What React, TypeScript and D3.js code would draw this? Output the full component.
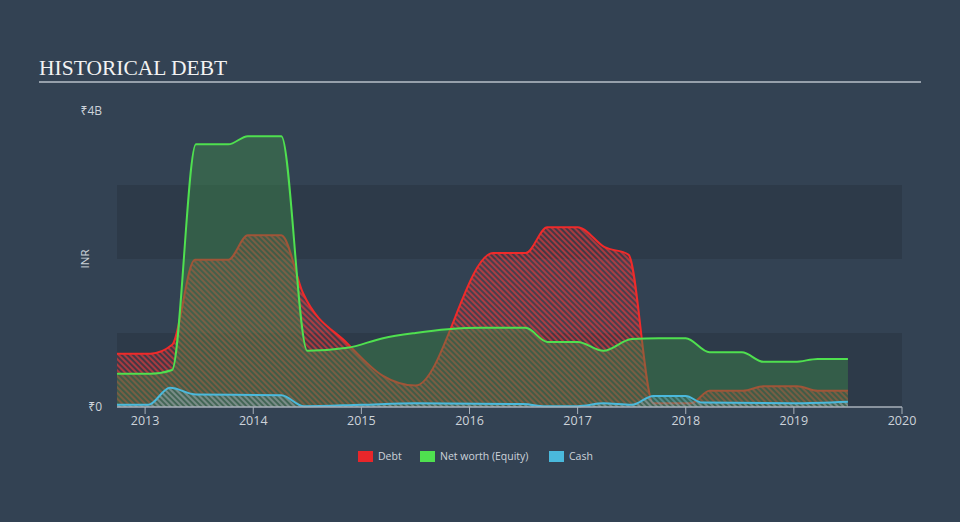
import React, { useEffect } from 'react';
import * as d3 from 'd3';

// Decimal years and values in ₹ billions
const debtYears = [2012.74, 2013.05, 2013.25, 2013.46, 2013.77, 2013.95, 2014.26, 2014.46, 2014.87, 2015.2, 2015.5, 2016.22, 2016.52, 2016.72, 2017.0, 2017.25, 2017.47, 2017.7, 2018.05, 2018.22, 2018.53, 2018.72, 2019.03, 2019.22, 2019.5];
const debtValues = [0.72, 0.72, 0.84, 1.99, 1.99, 2.32, 2.32, 1.54, 0.86, 0.42, 0.29, 2.08, 2.08, 2.43, 2.43, 2.16, 2.06, 0.05, 0.05, 0.22, 0.22, 0.28, 0.28, 0.22, 0.22];

const equityYears = [2012.74, 2013.05, 2013.25, 2013.47, 2013.77, 2013.95, 2014.26, 2014.5, 2014.87, 2015.2, 2015.5, 2015.8, 2016.1, 2016.52, 2016.72, 2017.0, 2017.24, 2017.5, 2017.75, 2018.0, 2018.22, 2018.52, 2018.72, 2019.01, 2019.22, 2019.5];
const equityValues = [0.45, 0.45, 0.5, 3.55, 3.55, 3.66, 3.66, 0.76, 0.8, 0.93, 1.0, 1.05, 1.07, 1.07, 0.88, 0.88, 0.76, 0.92, 0.93, 0.93, 0.74, 0.74, 0.61, 0.61, 0.65, 0.65];

const cashYears = [2012.74, 2013.03, 2013.23, 2013.47, 2014.26, 2014.47, 2015.0, 2015.5, 2016.5, 2016.7, 2017.0, 2017.24, 2017.5, 2017.7, 2018.0, 2018.15, 2019.0, 2019.5];
const cashValues = [0.03, 0.03, 0.26, 0.17, 0.16, 0.01, 0.03, 0.05, 0.04, 0.01, 0.01, 0.05, 0.03, 0.15, 0.15, 0.06, 0.05, 0.07];

const xTicks = [2013, 2014, 2015, 2016, 2017, 2018, 2019, 2020];
const yLabels = ['₹0', '₹4B'];
const yLabelValues = [0, 4];
const bandStarts = [0, 2];

const legendNames = ['Debt', 'Net worth (Equity)', 'Cash'];
const legendColors = ['#e8262a', '#4fe04f', '#4ab9dc'];

const W = 960;
const H = 522;
const BG = '#334253';
const BAND = '#2d3a49';
const TXT = '#cdd3da';
const SANS = "'Open Sans', 'Noto Sans', Arial, sans-serif";

const x = d3.scaleLinear().domain([2012.74, 2020]).range([117, 902]);
const y = d3.scaleLinear().domain([0, 4]).range([407, 111]);

function series(years: number[], values: number[]): [number, number][] {
  return years.map((yr, i) => [yr, values[i]]);
}

const line = d3
  .line<[number, number]>()
  .x((d) => x(d[0]))
  .y((d) => y(d[1]))
  .curve(d3.curveMonotoneX);
const area = d3
  .area<[number, number]>()
  .x((d) => x(d[0]))
  .y0(y(0))
  .y1((d) => y(d[1]))
  .curve(d3.curveMonotoneX);

export default function App() {
  useEffect(() => {
    document.body.style.margin = '0';
    document.body.style.background = BG;
  }, []);

  const debt = series(debtYears, debtValues);
  const equity = series(equityYears, equityValues);
  const cash = series(cashYears, cashValues);

  const legendX = [358, 420, 549];

  return (
    <svg
      width={W}
      height={H}
      style={{ position: 'fixed', left: 0, top: 0, display: 'block' }}
      xmlns="http://www.w3.org/2000/svg"
    >
      <defs>
        <pattern id="hatchRed" patternUnits="userSpaceOnUse" width="4" height="4" patternTransform="rotate(-45)">
          <rect width="4" height="4" fill="#e8262a" opacity="0.12" />
          <line x1="1" y1="0" x2="1" y2="4" stroke="#ef3a3a" strokeWidth="1.6" opacity="0.75" />
        </pattern>
        <pattern id="hatchBlue" patternUnits="userSpaceOnUse" width="4" height="4" patternTransform="rotate(-45)">
          <rect width="4" height="4" fill="#4ab9dc" opacity="0.1" />
          <line x1="1" y1="0" x2="1" y2="4" stroke="#7fc6dc" strokeWidth="1.4" opacity="0.55" />
        </pattern>
      </defs>
      <rect x={0} y={0} width={W} height={H} fill={BG} />

      {/* Title */}
      <text x={39} y={75} fontFamily="'Liberation Serif', 'Times New Roman', serif" fontSize={21.5} fill="#f2f2f2">
        HISTORICAL DEBT
      </text>
      <line x1={39} x2={921} y1={82} y2={82} stroke="#b9c0c8" strokeWidth={1.6} />

      {/* Bands */}
      {bandStarts.map((b) => (
        <rect key={b} x={x(2012.74)} width={x(2020) - x(2012.74)} y={y(b + 1)} height={y(b) - y(b + 1)} fill={BAND} />
      ))}

      {/* Y labels */}
      {yLabels.map((l, i) => (
        <text
          key={l}
          x={102}
          y={y(yLabelValues[i])}
          dy="0.35em"
          textAnchor="end"
          fontFamily={SANS}
          fontSize={12}
          fill={TXT}
        >
          {l}
        </text>
      ))}
      <text
        transform={`translate(89, ${y(2)}) rotate(-90)`}
        textAnchor="middle"
        fontFamily={SANS}
        fontSize={11.5}
        fill={TXT}
      >
        INR
      </text>

      {/* Debt */}
      <path d={area(debt) || ''} fill="url(#hatchRed)" />
      <path d={line(debt) || ''} fill="none" stroke="#f02a2a" strokeWidth={2} />

      {/* Equity */}
      <path d={area(equity) || ''} fill="#3f8a4a" fillOpacity={0.45} />
      <path d={line(equity) || ''} fill="none" stroke="#4fe04f" strokeWidth={2} />

      {/* Cash */}
      <path d={area(cash) || ''} fill="url(#hatchBlue)" />
      <path d={line(cash) || ''} fill="none" stroke="#4ab9dc" strokeWidth={2} />

      {/* X axis */}
      <line x1={x(2012.74)} x2={x(2020)} y1={407} y2={407} stroke="#a9b1ba" strokeWidth={1.5} />
      {xTicks.map((t) => (
        <g key={t} transform={`translate(${x(t)},407)`}>
          <line y1={0} y2={7} stroke="#a9b1ba" strokeWidth={1} />
          <text y={14} dy="0.35em" textAnchor="middle" fontFamily={SANS} fontSize={12.5} fill={TXT}>
            {t}
          </text>
        </g>
      ))}

      {/* Legend */}
      {legendNames.map((n, i) => (
        <g key={n} transform={`translate(${legendX[i]},451)`}>
          <rect width={15} height={11} fill={legendColors[i]} />
          <text x={20} y={5.5} dy="0.35em" fontFamily={SANS} fontSize={10.5} fill={TXT}>
            {n}
          </text>
        </g>
      ))}
    </svg>
  );
}
